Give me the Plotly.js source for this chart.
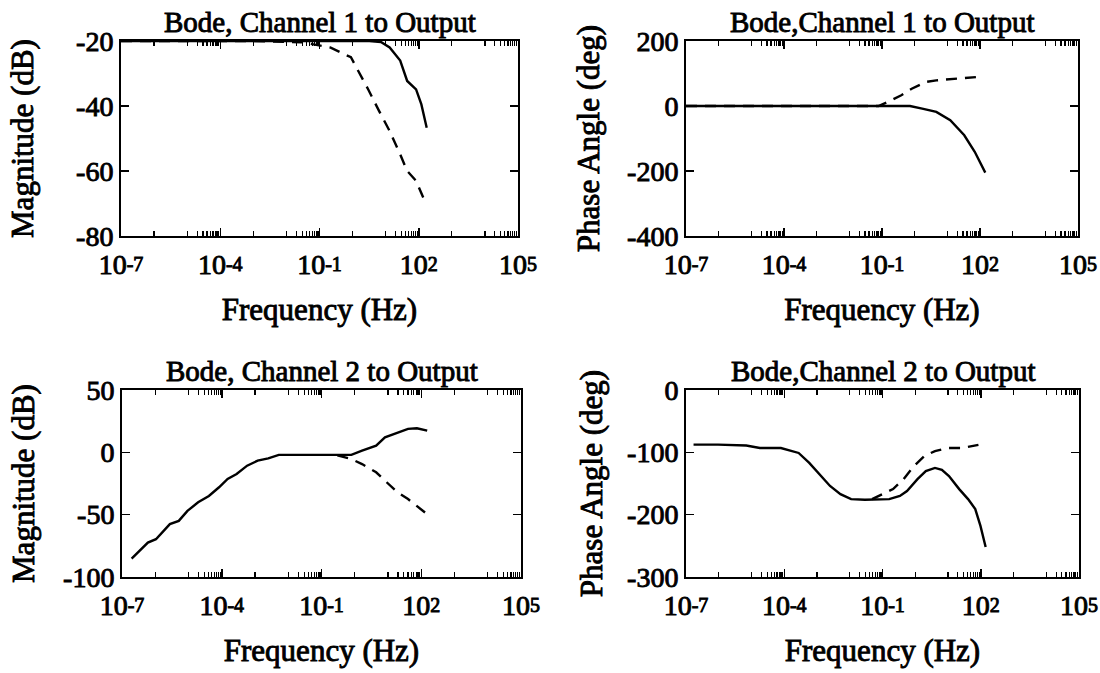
<!DOCTYPE html>
<html>
<head>
<meta charset="utf-8">
<script src="https://cdn.plot.ly/plotly-3.0.1.min.js"></script>
<style>
html,body{margin:0;padding:0;background:#fff}
#chart{width:1100px;height:673px}
#chart svg text{stroke:#000 !important;stroke-width:0.9px !important;}
</style>
</head>
<body>
<div id="chart"></div>
<script>
// ---- Tick labels ----
const xTickVals = [1e-7, 1e-4, 1e-1, 1e2, 1e5];
const xTickText = ["10<span style='font-size:20px;baseline-shift:3px'>-7</span>", "10<span style='font-size:20px;baseline-shift:3px'>-4</span>", "10<span style='font-size:20px;baseline-shift:3px'>-1</span>", "10<span style='font-size:20px;baseline-shift:3px'>2</span>", "10<span style='font-size:20px;baseline-shift:3px'>5</span>"];
const magTick1Vals = [-20, -40, -60, -80];
const magTick1Text = ["-20", "-40", "-60", "-80"];
const phTick1Vals = [200, 0, -200, -400];
const phTick1Text = ["200", "0", "-200", "-400"];
const magTick2Vals = [50, 0, -50, -100];
const magTick2Text = ["50", "0", "-50", "-100"];
const phTick2Vals = [0, -100, -200, -300];
const phTick2Text = ["0", "-100", "-200", "-300"];

// ---- Channel 1 magnitude (dB) ----
const mag1SolidF = [1e-7, 1e-4, 1e-1, 3.2, 7.2, 13.2, 27.5, 44.7, 83, 120, 174];
const mag1SolidY = [-20, -20, -20, -20, -20.3, -22, -26, -32.3, -34.9, -39.5, -46.7];
const mag1DashF  = [1e-7, 1e-3, 0.03, 0.21, 0.89, 1.86, 3.0, 6.3, 13.2, 27.5, 44.7, 83, 151];
const mag1DashY  = [-20, -20, -20.4, -22, -25, -31, -35, -41.5, -47.7, -54.9, -60, -63, -69.2];

// ---- Channel 1 phase (deg) ----
const ph1SolidF = [1e-7, 1e-3, 0.72, 1.7, 4.6, 12.3, 33, 69, 145];
const ph1SolidY = [0, 0, 0, -8, -18, -44, -90, -141, -205];
const ph1DashF  = [1e-7, 0.078, 0.145, 0.39, 0.81, 2.2, 4.6, 15.8, 100];
const ph1DashY  = [0, 0, 12, 33, 53, 74, 79, 84, 90];

// ---- Channel 2 magnitude (dB) ----
const mag2SolidF = [1.95e-7, 3.4e-7, 6.0e-7, 1.05e-6, 2.75e-6, 5.1e-6, 9.3e-6, 1.95e-5, 4.1e-5, 8.3e-5, 1.5e-4, 2.8e-4, 5.8e-4, 1.2e-3, 2.5e-3, 5.2e-3, 0.023, 0.23, 0.79, 1.66, 4.4, 8.1, 19, 40, 74, 151];
const mag2SolidY = [-85.3, -79, -72.4, -69.7, -57.6, -55, -47, -40, -35, -28, -21.4, -17.4, -10.7, -6.7, -4.8, -2, -2, -2, -2, 1.3, 5.4, 12, 15.5, 18.8, 19.3, 17.4];
const mag2DashF  = [0.3, 0.79, 1.66, 4.4, 9.1, 19, 40, 83, 151];
const mag2DashY  = [-2.5, -5.4, -9.4, -16, -24, -32, -37.5, -44, -49.6];

// ---- Channel 2 phase (deg) ----
const ph2SolidF = [1.7e-7, 9.5e-7, 6.9e-6, 1.8e-5, 7.9e-5, 2.75e-4, 5.8e-4, 1.2e-3, 2.5e-3, 5.2e-3, 0.011, 0.029, 0.16, 0.34, 0.56, 1.17, 2.1, 4.0, 6.5, 10.7, 22, 41, 68, 98, 141];
const ph2SolidY = [-87.6, -87.6, -89, -93, -93, -101, -117, -135, -154, -167, -175, -176, -175, -170, -162, -143, -130, -125, -128, -138, -159, -175, -191, -218, -252];
const ph2DashF  = [0.048, 0.1, 0.21, 0.44, 0.91, 1.9, 4.0, 10.7, 28, 85];
const ph2DashY  = [-175, -167, -159, -143, -122, -106, -98, -93, -93, -88];

// ---- Subplot titles and axis titles ----
const plotTitles = ["Bode, Channel 1 to Output", "Bode,Channel 1 to Output", "Bode, Channel 2 to Output", "Bode,Channel 2 to Output"];
const yTitles = ["Magnitude (dB)", "Phase Angle (deg)", "Magnitude (dB)", "Phase Angle (deg)"];
const xTitle = "Frequency (Hz)";

// minor tick positions: decade ticks plus 2..9 cluster before each labelled decade
const minorVals = [];
for (let m = -6; m <= 4; m++) minorVals.push(Math.pow(10, m));
[-4, -1, 2, 5].forEach(function (m) {
  for (let k = 2; k <= 9; k++) minorVals.push(k * Math.pow(10, m - 1));
});

const W = 1100, H = 673;
const boxes = [
  {x0: 121, x1: 518, y0: 41, y1: 236, ys: 33},
  {x0: 686, x1: 1078, y0: 41, y1: 236, ys: 18},
  {x0: 122, x1: 521, y0: 390, y1: 577, ys: 19},
  {x0: 686, x1: 1079, y0: 390, y1: 577, ys: 15}
];
const yRanges = [[-80, -20], [-400, 200], [-100, 50], [-300, 0]];
const yTicks = [[magTick1Vals, magTick1Text], [phTick1Vals, phTick1Text], [magTick2Vals, magTick2Text], [phTick2Vals, phTick2Text]];

const FAM = "Liberation Serif, Times New Roman, serif";
const TICKFONT = {family: FAM, size: 28, color: "#000"};
const TITLEFONT = {family: FAM, size: 29, color: "#000"};
const AXTITLEFONT = {family: FAM, size: 31, color: "#000"};
const lineSolid = {color: "#000", width: 2.4};
const lineDash = {color: "#000", width: 2.4, dash: "11px,8px"};

const series = [
  [mag1SolidF, mag1SolidY, mag1DashF, mag1DashY],
  [ph1SolidF, ph1SolidY, ph1DashF, ph1DashY],
  [mag2SolidF, mag2SolidY, mag2DashF, mag2DashY],
  [ph2SolidF, ph2SolidY, ph2DashF, ph2DashY]
];

const data = [];
const layout = {
  width: W, height: H,
  margin: {l: 0, r: 0, t: 0, b: 0},
  paper_bgcolor: "#fff", plot_bgcolor: "#fff",
  font: TICKFONT,
  showlegend: false,
  annotations: []
};

boxes.forEach(function (b, i) {
  const n = i === 0 ? "" : String(i + 1);
  const xa = "x" + n, ya = "y" + n;
  const s = series[i];
  data.push({x: s[0], y: s[1], xaxis: xa, yaxis: ya, mode: "lines", line: lineSolid, name: "solid", hoverinfo: "skip"});
  data.push({x: s[2], y: s[3], xaxis: xa, yaxis: ya, mode: "lines", line: lineDash, name: "dashed", hoverinfo: "skip"});
  layout["xaxis" + n] = {
    type: "log", range: [-7, 5], anchor: ya,
    domain: [b.x0 / W, b.x1 / W],
    tickmode: "array", tickvals: xTickVals, ticktext: xTickText,
    ticks: "inside", ticklen: 8, tickwidth: 1.5, tickcolor: "#000",
    ticklabelstandoff: 2,
    minor: {tickmode: "array", tickvals: minorVals, ticks: "inside", ticklen: 5, tickwidth: 1.2, tickcolor: "#000", showgrid: false},
    showline: true, linewidth: 2, linecolor: "#000", mirror: "allticks",
    showgrid: false, zeroline: false, fixedrange: true,
    title: {text: xTitle, font: AXTITLEFONT, standoff: 20},
    tickfont: TICKFONT
  };
  layout["yaxis" + n] = {
    range: yRanges[i], anchor: xa,
    domain: [1 - b.y1 / H, 1 - b.y0 / H],
    tickmode: "array", tickvals: yTicks[i][0], ticktext: yTicks[i][1],
    ticks: "inside", ticklen: 8, tickwidth: 1.5, tickcolor: "#000",
    showline: true, linewidth: 2, linecolor: "#000", mirror: "ticks",
    showgrid: false, zeroline: false, fixedrange: true,
    title: {text: yTitles[i], font: AXTITLEFONT, standoff: b.ys},
    tickfont: TICKFONT
  };
  layout.annotations.push({
    text: plotTitles[i], xref: "paper", yref: "paper",
    x: (b.x0 + b.x1) / 2 / W, y: 1 - (b.y0 - 19) / H,
    xanchor: "center", yanchor: "middle", showarrow: false, font: TITLEFONT
  });
});

Plotly.newPlot("chart", data, layout, {displayModeBar: false, staticPlot: true});
</script>
</body>
</html>
